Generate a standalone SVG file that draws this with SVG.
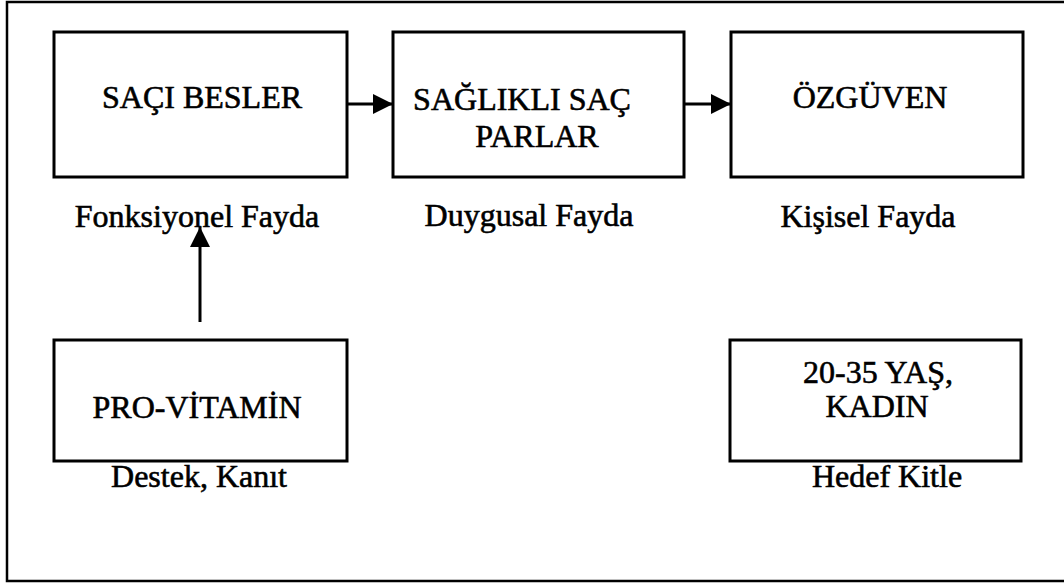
<svg xmlns="http://www.w3.org/2000/svg" width="1064" height="587" viewBox="0 0 1064 587">
  <style>
    .box { fill: #ffffff; stroke: #000000; stroke-width: 3; }
    .frame { fill: none; stroke: #000000; stroke-width: 2.5; }
    .edge { fill: none; stroke: #000000; stroke-width: 3; }
    .label { font-family: "Liberation Serif", "Times New Roman", serif; font-size: 32px; fill: #000000; stroke: #000000; stroke-width: 0.6; text-anchor: middle; }
  </style>
  <defs>
    <marker id="arrow" viewBox="0 0 20 20" refX="20" refY="10" markerWidth="20" markerHeight="20" markerUnits="userSpaceOnUse" orient="auto">
      <path d="M0,0 L20,10 L0,20 Z" fill="#000000"/>
    </marker>
  </defs>
  <rect width="1064" height="587" fill="#ffffff"/>

  <!-- outer frame: left, top and bottom rules -->
  <path class="frame" d="M1064,2 L7,2 L7,581 L1064,581"/>

  <g id="node-saci-besler">
    <rect class="box" x="54" y="32" width="293" height="145"/>
    <text class="label" x="202" y="108">SAÇI BESLER</text>
    <text class="label" x="197" y="227">Fonksiyonel Fayda</text>
  </g>

  <g id="node-saglikli-sac">
    <rect class="box" x="393" y="32" width="291" height="145"/>
    <text class="label" x="522" y="110">SAĞLIKLI SAÇ</text>
    <text class="label" x="537" y="147">PARLAR</text>
    <text class="label" x="529" y="226">Duygusal Fayda</text>
  </g>

  <g id="node-ozguven">
    <rect class="box" x="731" y="32" width="292" height="145"/>
    <text class="label" x="870" y="108">ÖZGÜVEN</text>
    <text class="label" x="868" y="227">Kişisel Fayda</text>
  </g>

  <g id="node-pro-vitamin">
    <rect class="box" x="54" y="340" width="293" height="121"/>
    <text class="label" x="197" y="418">PRO-VİTAMİN</text>
    <text class="label" x="199" y="487">Destek, Kanıt</text>
  </g>

  <g id="node-hedef-kitle">
    <rect class="box" x="730" y="340" width="291" height="121"/>
    <text class="label" x="878" y="383">20-35 YAŞ,</text>
    <text class="label" x="877" y="417">KADIN</text>
    <text class="label" x="887" y="487">Hedef Kitle</text>
  </g>

  <g id="connectors">
    <line class="edge" x1="347" y1="104" x2="393" y2="104" marker-end="url(#arrow)"/>
    <line class="edge" x1="684" y1="104" x2="731" y2="104" marker-end="url(#arrow)"/>
    <line class="edge" x1="200" y1="322" x2="200" y2="227" marker-end="url(#arrow)"/>
  </g>
</svg>
